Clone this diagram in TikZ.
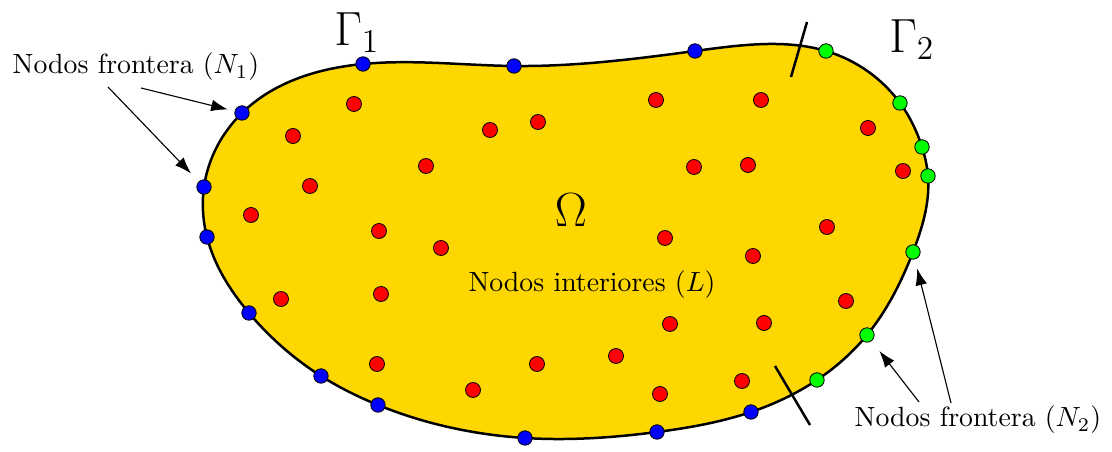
\documentclass[tikz,border=0pt]{standalone}
\usepackage{amsmath}
\usepackage{xcolor}
\usetikzlibrary{arrows.meta,positioning,backgrounds,hobby}
\definecolor{dominio}{RGB}{255,215,0}
\tikzset{
	>={Latex[length=6pt,width=4.2pt]},
	frontera1/.style={circle, draw, fill=blue, inner sep=0pt, minimum size=5.2pt, line width=0.3pt},
	frontera2/.style={circle, draw, fill=green, inner sep=0pt, minimum size=5.2pt, line width=0.3pt},
	interior/.style={circle, draw, fill=red, inner sep=0pt, minimum size=5.4pt, line width=0.3pt},
	etiqueta/.style={font=\normalsize, inner sep=1pt},
	flecha/.style={->, line width=0.4pt}
}

\begin{document}
\begin{tikzpicture}[x=0.36pt, y=-0.36pt]
	\useasboundingbox (0,0) rectangle (1112,452);

	% --- Nodos frontera (Gamma 1) ---
	\node[frontera1] (b1) at (363,64) {};
	\node[frontera1] (b2) at (514,66) {};
	\node[frontera1] (b3) at (695,51) {};
	\node[frontera1] (b4) at (751,412) {};
	\node[frontera1] (b5) at (657,432) {};
	\node[frontera1] (b6) at (525,438) {};
	\node[frontera1] (b7) at (378,405) {};
	\node[frontera1] (b8) at (321,376) {};
	\node[frontera1] (b9) at (249,313) {};
	\node[frontera1] (b10) at (207,237) {};
	\node[frontera1] (b11) at (204,187) {};
	\node[frontera1] (b12) at (242,113) {};

	% --- Nodos frontera (Gamma 2) ---
	\node[frontera2] (g1) at (826,51) {};
	\node[frontera2] (g2) at (900,103) {};
	\node[frontera2] (g3) at (922,147) {};
	\node[frontera2] (g4) at (928,176) {};
	\node[frontera2] (g5) at (913,252) {};
	\node[frontera2] (g6) at (867,335) {};
	\node[frontera2] (g7) at (817,380) {};
	\coordinate (top) at (768,44);

	% --- Nodos interiores ---
	\node[interior] (r1) at (354,104) {};
	\node[interior] (r2) at (293,136) {};
	\node[interior] (r3) at (490,130) {};
	\node[interior] (r4) at (538,122) {};
	\node[interior] (r5) at (656,100) {};
	\node[interior] (r6) at (761,100) {};
	\node[interior] (r7) at (868,128) {};
	\node[interior] (r8) at (426,166) {};
	\node[interior] (r9) at (310,186) {};
	\node[interior] (r10) at (694,167) {};
	\node[interior] (r11) at (748,165) {};
	\node[interior] (r12) at (903,171) {};
	\node[interior] (r13) at (251,215) {};
	\node[interior] (r14) at (379,231) {};
	\node[interior] (r15) at (441,248) {};
	\node[interior] (r16) at (665,238) {};
	\node[interior] (r17) at (827,227) {};
	\node[interior] (r18) at (753,256) {};
	\node[interior] (r19) at (281,299) {};
	\node[interior] (r20) at (381,294) {};
	\node[interior] (r21) at (846,301) {};
	\node[interior] (r22) at (670,324) {};
	\node[interior] (r23) at (764,323) {};
	\node[interior] (r24) at (377,364) {};
	\node[interior] (r25) at (537,364) {};
	\node[interior] (r26) at (616,356) {};
	\node[interior] (r27) at (473,390) {};
	\node[interior] (r28) at (660,394) {};
	\node[interior] (r29) at (742,381) {};

	% --- Dominio ---
	\begin{scope}[on background layer]
		\draw[line width=0.9pt, fill=dominio, use Hobby shortcut, closed=true]
			(b1.center) .. (b2.center) .. (b3.center) .. (top) .. (g1.center) .. (g2.center)
			.. (g3.center) .. (g4.center) .. (g5.center) .. (g6.center) .. (g7.center)
			.. (b4.center) .. (b5.center) .. (b6.center) .. (b7.center) .. (b8.center)
			.. (b9.center) .. (b10.center) .. (b11.center) .. (b12.center);
	\end{scope}

	% --- Etiquetas ---
	\node[font=\LARGE] (gamma1) at (357,33) {$\Gamma_1$};
	\node[font=\LARGE] (gamma2) at (912,40) {$\Gamma_2$};
	\node[font=\fontsize{18}{20}\selectfont] (omega) at (571,210) {$\Omega$};
	\node[etiqueta] (interiores) at (592,285) {Nodos interiores ($L$)};
	\node[etiqueta] (fron1) at (136,67) {Nodos frontera ($N_1$)};
	\node[etiqueta] (fron2) at (978,420) {Nodos frontera ($N_2$)};

	% --- Cortes entre Gamma 1 y Gamma 2 ---
	\coordinate (c1a) at (807,22);
	\coordinate (c1b) at (791,77);
	\coordinate (c2a) at (775,366);
	\coordinate (c2b) at (810,425);
	\draw[line width=0.9pt] (c1a) -- (c1b);
	\draw[line width=0.9pt] (c2a) -- (c2b);

	% --- Flechas ---
	\coordinate (f1a) at (141,88);
	\coordinate (f1b) at (108,87);
	\coordinate (f2a) at (919,402);
	\coordinate (f2b) at (951,403);
	\draw[flecha, shorten >=2.5pt] (f1a) -- (b12);
	\draw[flecha, shorten >=4pt] (f1b) -- (b11);
	\draw[flecha, shorten >=4.5pt] (f2a) -- (g6);
	\draw[flecha, shorten >=3.4pt] (f2b) -- (g5);

\end{tikzpicture}
\end{document}
